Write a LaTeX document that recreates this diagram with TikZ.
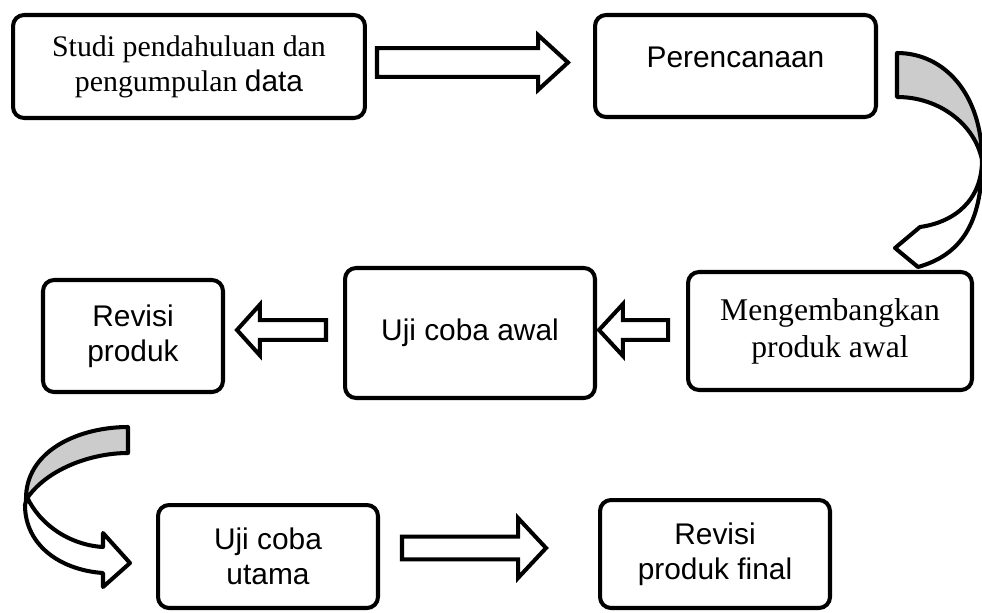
\documentclass[tikz,border=0pt]{standalone}
\usepackage{fontspec}
\setmainfont{Liberation Serif}
\setsansfont{Liberation Sans}
\usetikzlibrary{calc}
\definecolor{bandgrey}{RGB}{204, 204, 204}

% block arrow between two points: #1 tail, #2 tip, #3 shaft half width, #4 head half width, #5 head length (px)
\newcommand{\blockarrow}[5]{%
  \draw[blockarr] let \p1=(#1), \p2=(#2), \n1={sign(\x2-\x1)*#5*0.5669} in
    (\x1,{\y1+#3*0.5669pt}) -- ({\x2-\n1},{\y1+#3*0.5669pt})
    -- ({\x2-\n1},{\y1+#4*0.5669pt}) -- (\x2,\y1)
    -- ({\x2-\n1},{\y1-#4*0.5669pt}) -- ({\x2-\n1},{\y1-#3*0.5669pt})
    -- (\x1,{\y1-#3*0.5669pt}) -- cycle;}

\begin{document}
\begin{tikzpicture}[
    x=0.02cm, y=-0.02cm, % one unit = one pixel of the layout, y down
    box/.style={ % rounded step box
        rectangle,
        rounded corners=0.22cm,
        draw=black,
        line width=2.3pt,
        align=center,
        inner sep=2pt,
        font=\sffamily\fontsize{17}{20}\selectfont
    },
    serifbox/.style={box, font=\rmfamily\fontsize{17}{20}\selectfont},
    % hollow block arrows
    blockarr/.style={draw=black, fill=white, line width=2.3pt, line join=miter},
    % curved ribbon arrows
    ribbon/.style={draw=black, line width=2.3pt, line join=round, fill=#1},
    ribbon/.default=white
]
\useasboundingbox (0,0) rectangle (982,612);

% First row
\node[serifbox, minimum width=7.04cm, minimum height=2.06cm] (studi) at (189,66.5)
    {Studi pendahuluan dan\\pengumpulan {\sffamily data}};
\node[box, minimum width=5.62cm, minimum height=2.04cm, text depth=0.35cm] (plan) at (735.5,66) {Perencanaan};

% Second row
\node[serifbox, minimum width=5.68cm, minimum height=2.36cm,
      font=\rmfamily\fontsize{18}{21}\selectfont] (kembang) at (830,331)
    {Mengembangkan\\produk awal};
\node[box, minimum width=5.0cm, minimum height=2.6cm] (awal) at (470,333) {Uji coba awal};
\node[box, minimum width=3.6cm, minimum height=2.24cm] (revisi) at (133,336) {Revisi\\produk};

% Third row
\node[box, minimum width=4.4cm, minimum height=2.06cm] (utama) at (268,556.5) {Uji coba\\utama};
\node[box, minimum width=4.6cm, minimum height=2.16cm] (final) at (715,554) {Revisi\\produk final};

% Straight block arrows
\blockarrow{$(studi.east)+(10,-4)$}{$(plan.west)+(-25,-4)$}{14.5}{27.5}{30}
\blockarrow{$(kembang.west)+(-18,-1)$}{$(awal.east)+(2,-3)$}{10}{26}{24}
\blockarrow{$(awal.west)+(-17,-3)$}{$(revisi.east)+(12,-6)$}{10}{25.5}{23}
\blockarrow{$(utama.east)+(22,-8.5)$}{$(final.west)+(-52,-6)$}{11.5}{30}{28}

% Curved arrow: Perencanaan to Mengembangkan
\draw[ribbon=bandgrey] (897,53) .. controls (945,53) and (982,95) .. (982,160)
    .. controls (975,125) and (940,97) .. (897,97) -- cycle;
\draw[ribbon] (982,160) .. controls (982,200) and (955,222) .. (920,227)
    -- (895,248) -- (918,267) .. controls (960,255) and (982,225) .. (982,160) -- cycle;

% Curved arrow: Revisi produk to Uji coba utama
\draw[ribbon=bandgrey] (128,427) .. controls (80,427) and (25,450) .. (26,500)
    .. controls (45,470) and (90,453) .. (128,453) -- cycle;
\draw[ribbon] (27,497) .. controls (40,525) and (70,545) .. (103,547)
    -- (103,533) -- (130,563) -- (103,587) -- (103,573)
    .. controls (60,570) and (25,545) .. (25,505) -- cycle;

\end{tikzpicture}
\end{document}
